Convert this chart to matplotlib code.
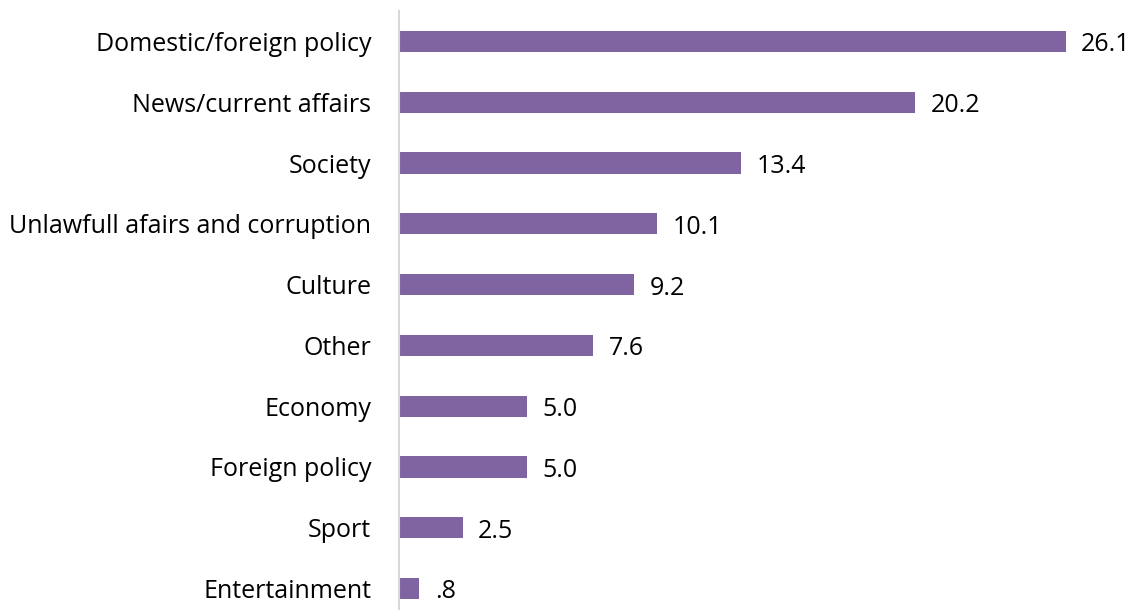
import matplotlib
matplotlib.use("Agg")
import matplotlib.pyplot as plt

categories = ["Domestic/foreign policy", "News/current affairs", "Society",
              "Unlawfull afairs and corruption", "Culture", "Other", "Economy",
              "Foreign policy", "Sport", "Entertainment"]
values = [26.1, 20.2, 13.4, 10.1, 9.2, 7.6, 5.0, 5.0, 2.5, 0.8]
value_labels = ["26.1", "20.2", "13.4", "10.1", "9.2", "7.6", "5.0", "5.0", "2.5", ".8"]

plt.rcParams['font.family'] = ['Open Sans', 'DejaVu Sans']

W, H = 1134, 610
fig = plt.figure(figsize=(W / 100, H / 100), dpi=100)
ax = fig.add_axes([399 / W, 0, (W - 399) / W, 599 / H])

pos = list(range(len(categories)))
ax.barh(pos, values, height=0.35, color="#8064A2")
ax.set_ylim(9.354, -0.502)
ax.set_xlim(0, (W - 399) / 25.55)

for y, v, lab in zip(pos, values, value_labels):
    ax.annotate(lab, (v, y), xytext=(11, -2.5), textcoords="offset points",
                ha="left", va="center", fontsize=18, color="#000000")

ax.set_yticks(pos)
ax.set_yticklabels(categories, fontsize=18)
ax.tick_params(axis="y", length=0, pad=20)
ax.set_xticks([])
for s in ["top", "right", "bottom"]:
    ax.spines[s].set_visible(False)
ax.spines["left"].set_color("#d9d9d9")
ax.spines["left"].set_linewidth(1.5)

fig.savefig("out.png", dpi=100)
